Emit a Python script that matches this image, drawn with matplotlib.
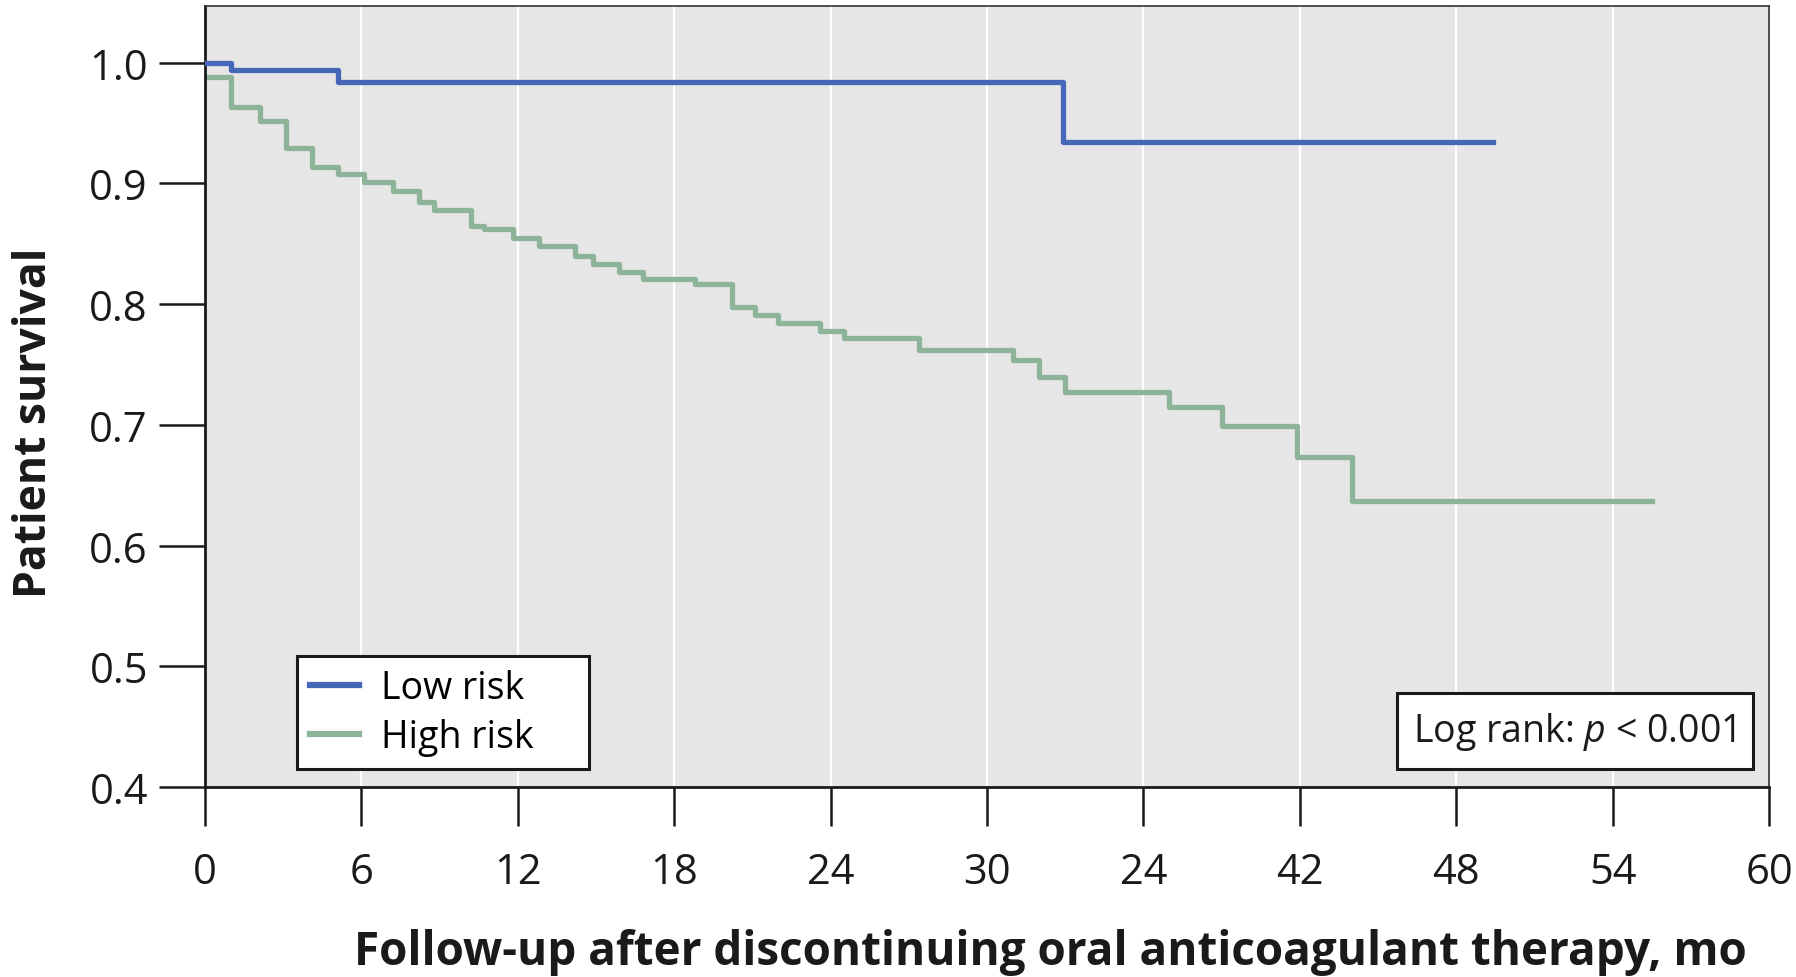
import matplotlib
matplotlib.use("Agg")
import matplotlib.pyplot as plt
from matplotlib.offsetbox import AnchoredText

plt.rcParams['font.family'] = ['Open Sans', 'DejaVu Sans']
plt.rcParams['mathtext.fontset'] = 'custom'
plt.rcParams['mathtext.rm'] = 'Open Sans'
plt.rcParams['mathtext.it'] = 'Open Sans:italic'

# Kaplan-Meier steps (month where each level starts, survival level)
low_t = [0, 1.0, 5.1, 32.9, 49.4]
low_s = [1.0, 0.994, 0.984, 0.934, 0.934]

high_t = [0, 1.0, 2.1, 3.1, 4.1, 5.1, 6.1, 7.2, 8.2, 8.8, 10.2, 10.7, 11.8,
          12.8, 14.2, 14.9, 15.9, 16.8, 18.8, 20.2, 21.1, 22.0, 23.6, 24.5,
          27.4, 31.0, 32.0, 33.0, 37.0, 39.0, 41.9, 44.0, 55.5]
high_s = [0.988, 0.963, 0.952, 0.929, 0.914, 0.908, 0.901, 0.894, 0.885,
          0.878, 0.865, 0.862, 0.855, 0.848, 0.840, 0.833, 0.827, 0.821,
          0.817, 0.798, 0.791, 0.784, 0.778, 0.772, 0.762, 0.754, 0.740,
          0.727, 0.715, 0.699, 0.673, 0.637, 0.637]

x_ticks = [0, 6, 12, 18, 24, 30, 36, 42, 48, 54, 60]
x_labels = ['0', '6', '12', '18', '24', '30', '24', '42', '48', '54', '60']
y_ticks = [0.4, 0.5, 0.6, 0.7, 0.8, 0.9, 1.0]

fig = plt.figure(figsize=(17.96, 9.78), dpi=100)
ax = fig.add_axes([0.1141, 0.1943, 0.8709, 0.7985])
ax.set_facecolor('#e6e6e6')

for x in x_ticks[1:-1]:
    ax.axvline(x, color='white', lw=1.6, zorder=1)

ax.step(low_t, low_s, where='post', color='#4666b8', lw=3.8, label='Low risk', zorder=3)
ax.step(high_t, high_s, where='post', color='#8db398', lw=3.8, label='High risk', zorder=2)

ax.set_xlim(0, 60)
ax.set_ylim(0.4, 1.047)
ax.set_xticks(x_ticks)
ax.set_xticklabels(x_labels)
ax.set_yticks(y_ticks)
ax.set_yticklabels(['%.1f' % v for v in y_ticks])

ax.tick_params(axis='y', direction='out', length=33, width=1.8, pad=8,
               labelsize=30, colors='#1a1a1a')
ax.tick_params(axis='x', direction='out', length=28, width=1.8, pad=18,
               labelsize=30, colors='#1a1a1a')

for side in ['top', 'right']:
    ax.spines[side].set_color('#333333')
    ax.spines[side].set_linewidth(1.2)
for side in ['left', 'bottom']:
    ax.spines[side].set_color('#1a1a1a')
    ax.spines[side].set_linewidth(2.0)

leg = ax.legend(loc='lower left', bbox_to_anchor=(0.0588, 0.023, 0.187, 0.1),
                mode='expand', borderaxespad=0,
                fontsize=27, frameon=True, fancybox=False, framealpha=1,
                edgecolor='#1a1a1a', handlelength=1.3, handletextpad=0.6,
                borderpad=0.35, labelspacing=0.3)
leg.get_frame().set_linewidth(2.2)
for line in leg.get_lines():
    line.set_linewidth(4.5)

pbox = AnchoredText('Log rank: $p$ < 0.001', loc='lower right',
                    bbox_to_anchor=(0.9897, 0.0235), bbox_transform=ax.transAxes,
                    borderpad=0, pad=0.45, frameon=True,
                    prop=dict(size=27, color='#1a1a1a'))
pbox.patch.set_boxstyle('square,pad=0')
pbox.patch.set_edgecolor('#1a1a1a')
pbox.patch.set_linewidth(2.2)
pbox.zorder = 5
ax.add_artist(pbox)

fig.text(0.019, 0.568, 'Patient survival', rotation=90, ha='center', va='center',
         fontsize=32, fontweight='bold', color='#1a1a1a')
fig.text(0.585, 0.026, 'Follow-up after discontinuing oral anticoagulant therapy, mo',
         ha='center', va='center', fontsize=33, fontweight='bold', color='#1a1a1a')

fig.savefig('out.png', dpi=100)
